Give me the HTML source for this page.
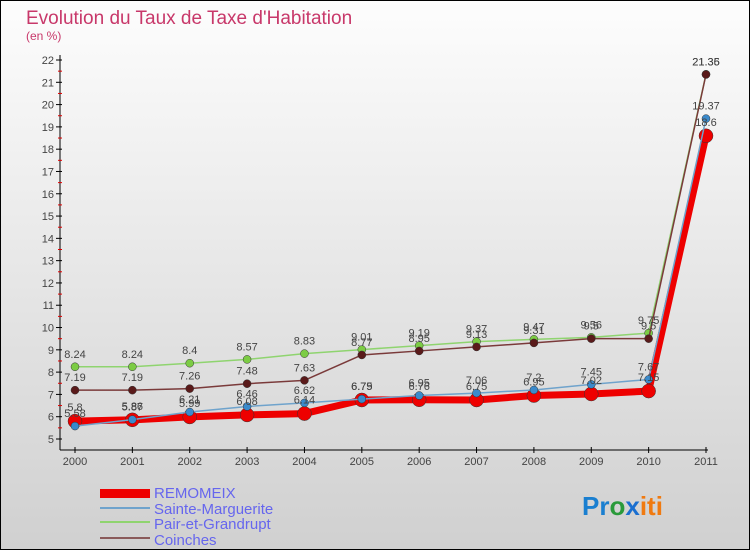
<!DOCTYPE html>
<html><head><meta charset="utf-8"><style>
body{margin:0}
#c{width:750px;height:550px;position:relative;font-family:"Liberation Sans",sans-serif}
</style></head><body>
<div id="c">
<svg width="750" height="550" xmlns="http://www.w3.org/2000/svg" id="svg">
<defs><linearGradient id="bg" x1="0" y1="0" x2="0" y2="1"><stop offset="0" stop-color="#fdfdfd"/><stop offset="1" stop-color="#d0d0d0"/></linearGradient></defs>
<rect x="0.5" y="0.5" width="749" height="549" fill="url(#bg)" stroke="#000"/>
<text x="26" y="24" font-size="19" fill="#c8386a">Evolution du Taux de Taxe d'Habitation</text>
<text x="26" y="40" font-size="12" fill="#c8386a">(en %)</text>
<g id="axes"></g><g id="series"></g><g id="labels"></g>
<g font-size="15" fill="#6666ee">
<rect x="100" y="489" width="50" height="9" fill="#ee0000"/>
<text x="154" y="498">REMOMEIX</text>
<rect x="100" y="507" width="50" height="2" fill="#6fa3cc"/>
<text x="154" y="514">Sainte-Marguerite</text>
<rect x="100" y="521" width="50" height="2" fill="#8fd46f"/>
<text x="154" y="529">Pair-et-Grandrupt</text>
<rect x="100" y="537" width="50" height="2" fill="#8a5a5a"/>
<text x="154" y="545">Coinches</text>
</g>
<g font-size="26" font-weight="bold">
<text x="582" y="515"><tspan fill="#1a7fd0">Pr</tspan><tspan fill="#2a9a3a">o</tspan><tspan fill="#1a6fd0">x</tspan><tspan fill="#f07a10">iti</tspan></text>
</g>
</svg>
</div>
<script>
const years=["2000","2001","2002","2003","2004","2005","2006","2007","2008","2009","2010","2011"];
const remomeix=[5.8,5.86,5.99,6.08,6.14,6.75,6.76,6.75,6.95,7.02,7.15,18.6];
const sainteMarguerite=[5.58,5.87,6.21,6.46,6.62,6.79,6.95,7.06,7.2,7.45,7.67,19.37];
const pairEtGrandrupt=[8.24,8.24,8.4,8.57,8.83,9.01,9.19,9.37,9.47,9.56,9.75,21.36];
const coinches=[7.19,7.19,7.26,7.48,7.63,8.77,8.95,9.13,9.31,9.5,9.5,21.35];
const yTicks=[5,6,7,8,9,10,11,12,13,14,15,16,17,18,19,20,21,22];
const NS="http://www.w3.org/2000/svg";
function X(i){return 75+i*(706-75)/11;}
function Y(v){return 439-(v-5)*(439-60)/17;}
function mk(t,a,p){const e=document.createElementNS(NS,t);for(const k in a)e.setAttribute(k,a[k]);p.appendChild(e);return e;}
const ax=document.getElementById('axes');
let l=mk('line',{x1:60,y1:55,x2:60,y2:450,stroke:'#000'},ax);


l=mk('line',{x1:60,y1:450,x2:708,y2:450,stroke:'#000'},ax);


yTicks.forEach(v=>{
 mk('line',{x1:56,y1:Y(v),x2:62,y2:Y(v),stroke:'#000'},ax);
 if(v<22)mk('line',{x1:58,y1:Y(v+0.5),x2:62,y2:Y(v+0.5),stroke:'#d00'},ax);
 const t=mk('text',{x:54,y:Y(v)+4,'font-size':11,fill:'#444','text-anchor':'end'},ax);
 t.textContent=v;
 
 
});
years.forEach((y,i)=>{
 mk('line',{x1:X(i),y1:447,x2:X(i),y2:453,stroke:'#000'},ax);
 const t=mk('text',{x:X(i),y:465,'font-size':11,fill:'#444','text-anchor':'middle'},ax);
 t.textContent=y;
 
 
});
const sg=document.getElementById('series'),lg=document.getElementById('labels');
function draw(vals,name,color,w,dot,dotFill,lblOff){
 const g=mk('g',{},sg);
 
 
 const pl=mk('polyline',{points:vals.map((v,i)=>X(i)+','+Y(v)).join(' '),fill:'none',stroke:color,'stroke-width':w,'stroke-linejoin':'round'},g);
 
 
 vals.forEach((v,i)=>{
  const c=mk('circle',{cx:X(i),cy:Y(v),r:dot,fill:dotFill,stroke:'#333','stroke-width':0.5},g);
  
  
  const t=mk('text',{x:X(i),y:Y(v)-lblOff,'font-size':11,fill:'#444','text-anchor':'middle'},lg);
  t.textContent=v;
  
  
 });
}
draw(pairEtGrandrupt,'pair-et-grandrupt','#8fd46f',1.5,4,'#7ccc44',9);
draw(coinches,'coinches','#7a3a3a',1.5,4,'#5a1a1a',9);
draw(remomeix,'remomeix','#ee0000',7,7,'#ee0000',10);
draw(sainteMarguerite,'sainte-marguerite','#6fa3cc',1.5,4,'#3a8acc',9);
</script>
</body></html>
